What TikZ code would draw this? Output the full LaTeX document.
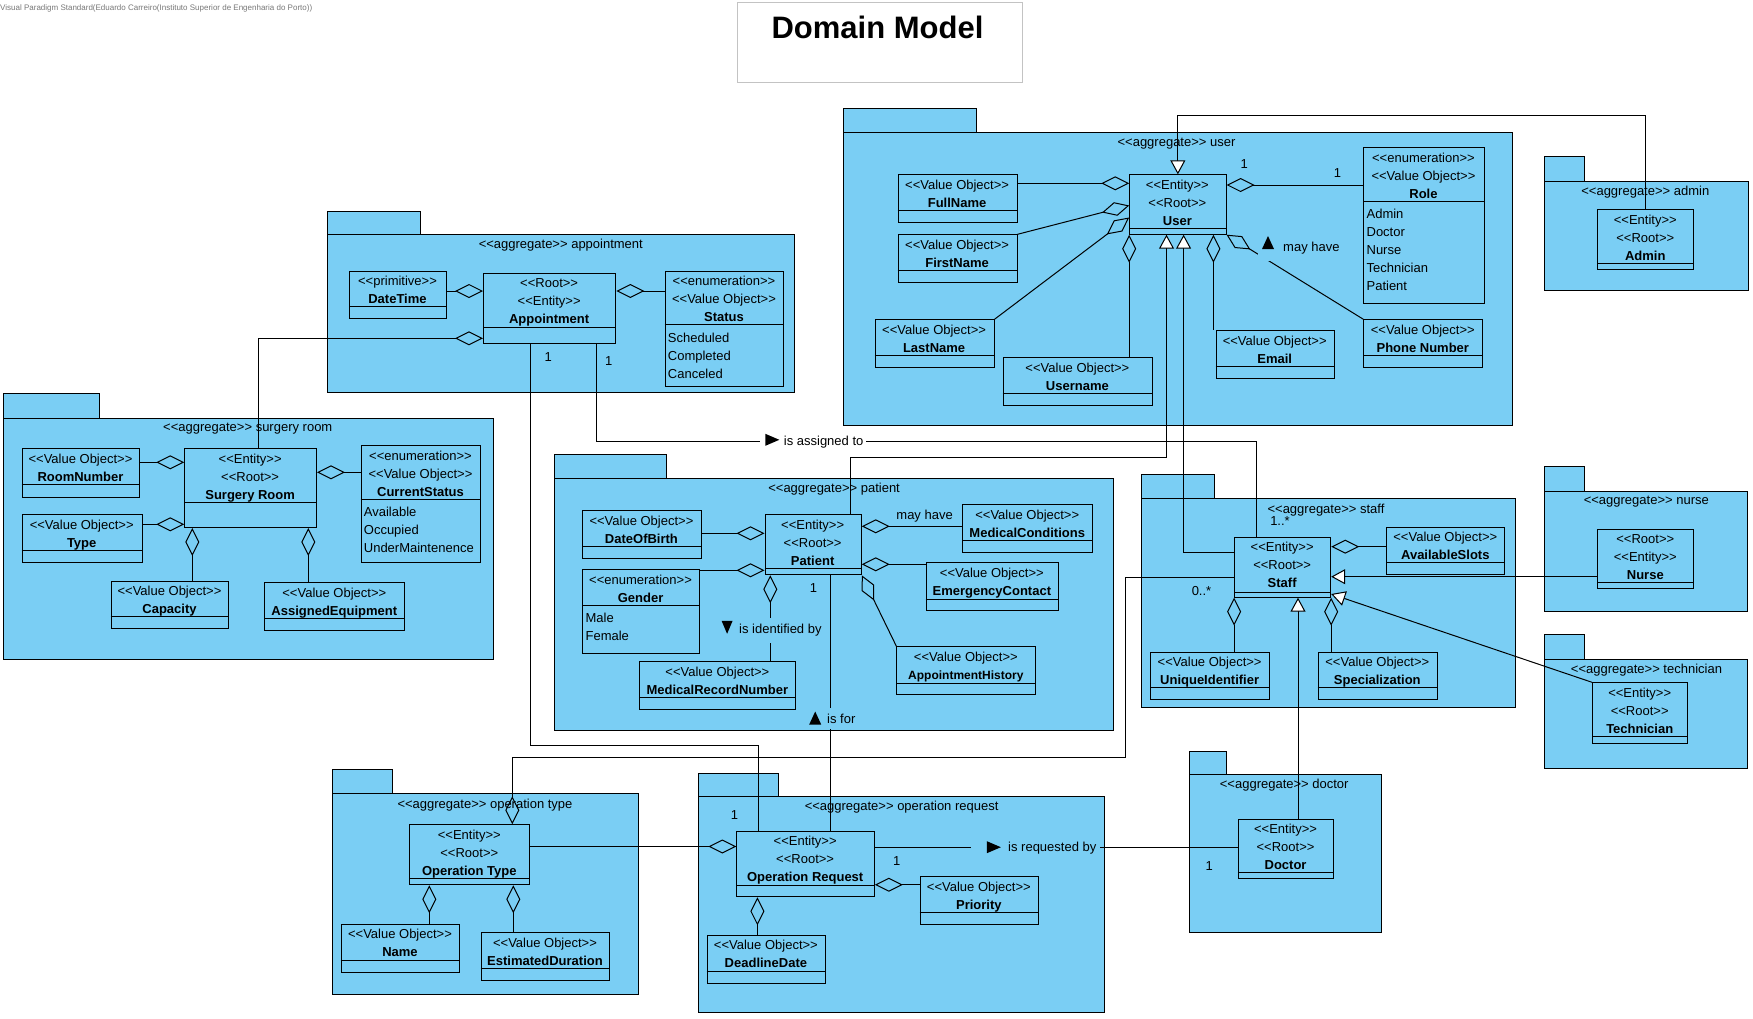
\documentclass[tikz,border=0pt]{standalone}
\usepackage{fontspec}
\setmainfont{Liberation Sans}
\usetikzlibrary{arrows.meta}
\definecolor{pkgblue}{RGB}{122,206,244}
\definecolor{wmgray}{RGB}{120,120,120}
\definecolor{titlegray}{RGB}{195,195,195}
\newcommand\stereo[1]{<\kern0pt<#1>\kern0pt>}
\tikzset{
  pkgshape/.style={draw=black, fill=pkgblue, line width=0.9pt, rectangle, inner sep=0pt, anchor=north west},
  cls/.style={draw=black, fill=pkgblue, line width=1pt, rectangle, inner sep=0pt, anchor=north west},
  sepline/.style={line width=1pt},
  head/.style={font=\fontsize{13}{18}\selectfont, align=center, inner sep=0pt, anchor=north},
  attr/.style={font=\fontsize{13}{18}\selectfont, align=left, inner sep=0pt, anchor=north west},
  ptitle/.style={font=\fontsize{13}{16}\selectfont, inner sep=0pt},
  lbl/.style={font=\fontsize{13}{16}\selectfont, inner xsep=3pt, inner ysep=2pt},
  mult/.style={font=\fontsize{13}{16}\selectfont, inner sep=0pt},
  con/.style={line width=1pt, draw=black},
  agg/.style={con, arrows={Diamond[open,length=28pt,width=14pt]-}},
  gen/.style={con, arrows={-Triangle[fill=white,length=14pt,width=15pt]}},
}
\newcommand\umlpkg[7]{%
  \node[pkgshape, minimum width={(#4-#2)*1pt}, minimum height={(#5-#3)*1pt}] (#1-tab) at (#2,#3) {};
  \node[pkgshape, minimum width={(#6-#2)*1pt}, minimum height={(#7-#5)*1pt}] (#1) at (#2,#5) {};}
\newcommand\umlbox[7]{%
  \node[cls, minimum width={(#4-#2)*1pt}, minimum height={(#5-#3)*1pt}] (#1) at (#2,#3) {};
  \draw[sepline] (#2,#6) -- (#4,#6);
  \node[head] (#1-h) at ({(#2+#4)/2},#3+5.2) {#7};}
\newcommand\umlenum[8]{%
  \umlbox{#1}{#2}{#3}{#4}{#5}{#6}{#7}%
  \node[attr] (#1-a) at (#2+3,#6+8) {#8};}
\newcommand\trir[2]{\fill (#1,#2-6) -- (#1+14,#2) -- (#1,#2+6) -- cycle;}
\newcommand\triu[2]{\fill (#1,#2+6.5) -- (#1+6,#2-6.5) -- (#1+12,#2+6.5) -- cycle;}
\newcommand\trid[2]{\fill (#1,#2-6.5) -- (#1+11,#2-6.5) -- (#1+5.5,#2+6.5) -- cycle;}
\begin{document}
\begin{tikzpicture}[x=1pt,y=-1pt]
\fill[white] (0,0) rectangle (1753,1018);
\useasboundingbox (0,0) rectangle (1753,1018);

\node[font=\fontsize{8}{9}\selectfont, text=wmgray, anchor=west, inner sep=0pt] (watermark) at (0,8) {Visual Paradigm Standard(Eduardo Carreiro(Instituto Superior de Engenharia do Porto))};
\node[draw=titlegray, fill=white, line width=0.8pt, anchor=north west, inner sep=0pt, minimum width=285pt, minimum height=79.4pt] (titlebox) at (736.7,2.3) {};
\node[font=\fontsize{31}{36}\selectfont\bfseries, inner sep=0pt] (title) at (877.5,27.5) {Domain Model};

% ---------- packages
\umlpkg{pappt}{326.7}{210.7}{420}{234}{794}{391.7}
\node[ptitle] (pappt-t) at (560.8,245.5) {\stereo{aggregate} appointment};
\umlpkg{psurg}{2.7}{393.3}{99.3}{418.3}{493.3}{659.3}
\node[ptitle] (psurg-t) at (247.8,429) {\stereo{aggregate} surgery room};
\umlpkg{puser}{843}{108.3}{975.7}{132.3}{1512.2}{425}
\node[ptitle] (puser-t) at (1176.5,144) {\stereo{aggregate} user};
\umlpkg{padmin}{1544.3}{156}{1584.3}{180.7}{1747.7}{290}
\node[ptitle] (padmin-t) at (1645.3,192) {\stereo{aggregate} admin};
\umlpkg{ppat}{554.4}{454.3}{666.3}{478.3}{1113.4}{730}
\node[ptitle] (ppat-t) at (834.1,489) {\stereo{aggregate} patient};
\umlpkg{pstaff}{1140.7}{474.3}{1214.2}{498.3}{1515.4}{707.3}
\node[ptitle] (pstaff-t) at (1326,510.3) {\stereo{aggregate} staff};
\umlpkg{pnurse}{1544.4}{466}{1584.1}{490.7}{1747}{611.3}
\node[ptitle] (pnurse-t) at (1646.3,501.3) {\stereo{aggregate} nurse};
\umlpkg{ptech}{1544.4}{634}{1584.1}{658.7}{1747}{768.3}
\node[ptitle] (ptech-t) at (1646.5,670.3) {\stereo{aggregate} technician};
\umlpkg{poptype}{331.7}{769.3}{392.3}{793.3}{638.3}{994.3}
\node[ptitle] (poptype-t) at (485,805) {\stereo{aggregate} operation type};
\umlpkg{popreq}{698}{772.7}{778.4}{796}{1104.3}{1012.3}
\node[ptitle] (popreq-t) at (901.6,807.3) {\stereo{aggregate} operation request};
\umlpkg{pdoc}{1188.5}{750.7}{1226.4}{774}{1380.6}{932.3}
\node[ptitle] (pdoc-t) at (1284.2,785.3) {\stereo{aggregate} doctor};

% ---------- classes: appointment
\umlbox{datetime}{349.3}{270.7}{445.7}{318.3}{306.7}{\stereo{primitive}\\\textbf{DateTime}}
\umlbox{appt}{483}{273.3}{615.3}{343.3}{327.3}{\stereo{Root}\\\stereo{Entity}\\\textbf{Appointment}}
\umlenum{status}{664.7}{270.7}{783.3}{386}{324.7}{\stereo{enumeration}\\\stereo{Value Object}\\\textbf{Status}}{Scheduled\\Completed\\Canceled}
% surgery room
\umlbox{roomnumber}{21.7}{448.3}{139.3}{496.7}{484.3}{\stereo{Value Object}\\\textbf{RoomNumber}}
\umlbox{rtype}{21.7}{514.3}{141.7}{562.3}{550.7}{\stereo{Value Object}\\\textbf{Type}}
\umlbox{sroom}{184.3}{448.3}{316}{527}{502.3}{\stereo{Entity}\\\stereo{Root}\\\textbf{Surgery Room}}
\umlenum{curstatus}{360.7}{445.3}{480.3}{562.3}{499}{\stereo{enumeration}\\\stereo{Value Object}\\\textbf{CurrentStatus}}{Available\\Occupied\\UnderMaintenence}
\umlbox{capacity}{110.7}{580.7}{228.3}{628.3}{616.7}{\stereo{Value Object}\\\textbf{Capacity}}
\umlbox{equip}{264.3}{582.3}{404.3}{630.3}{618.7}{\stereo{Value Object}\\\textbf{AssignedEquipment}}
% user
\umlbox{fullname}{897.7}{174.3}{1016.5}{222.3}{210.3}{\stereo{Value Object}\\\textbf{FullName}}
\umlbox{firstname}{897.7}{234.3}{1016.5}{282.3}{270.3}{\stereo{Value Object}\\\textbf{FirstName}}
\umlbox{user}{1129.2}{174.3}{1225.5}{233.7}{228.3}{\stereo{Entity}\\\stereo{Root}\\\textbf{User}}
\umlenum{role}{1363.4}{147.3}{1483.5}{303.3}{201.3}{\stereo{enumeration}\\\stereo{Value Object}\\\textbf{Role}}{Admin\\Doctor\\Nurse\\Technician\\Patient}
\umlbox{lastname}{874.7}{319.3}{993.5}{367.3}{355.7}{\stereo{Value Object}\\\textbf{LastName}}
\umlbox{username}{1002.6}{357.3}{1152.2}{405.3}{393.7}{\stereo{Value Object}\\\textbf{Username}}
\umlbox{email}{1215.5}{330.3}{1333.9}{378.3}{366.3}{\stereo{Value Object}\\\textbf{Email}}
\umlbox{phone}{1363.4}{319.3}{1482.2}{367.3}{355.7}{\stereo{Value Object}\\\textbf{Phone Number}}
\umlbox{admin}{1597.3}{209.3}{1693.3}{269.3}{263.3}{\stereo{Entity}\\\stereo{Root}\\\textbf{Admin}}
% patient
\umlbox{dob}{582.4}{510.3}{700.5}{558.3}{546.7}{\stereo{Value Object}\\\textbf{DateOfBirth}}
\umlenum{gender}{582.4}{569.3}{698.7}{653.3}{605}{\stereo{enumeration}\\\textbf{Gender}}{Male\\Female}
\umlbox{patient}{764.5}{514.3}{860.8}{574.3}{568.3}{\stereo{Entity}\\\stereo{Root}\\\textbf{Patient}}
\umlbox{medcond}{962.2}{504.3}{1092.3}{552.3}{540}{\stereo{Value Object}\\\textbf{MedicalConditions}}
\umlbox{emerg}{925.5}{562.3}{1058.2}{610.3}{599}{\stereo{Value Object}\\\textbf{EmergencyContact}}
\umlbox{appthist}{896.4}{646.3}{1035.3}{694.3}{683}{\stereo{Value Object}\\\textbf{\fontsize{12}{18}\selectfont AppointmentHistory}}
\umlbox{mrn}{639.4}{661.3}{795.4}{709.3}{697}{\stereo{Value Object}\\\textbf{MedicalRecordNumber}}
% staff, nurse, technician
\umlbox{staff}{1234.1}{536.7}{1330.2}{596.7}{592}{\stereo{Entity}\\\stereo{Root}\\\textbf{Staff}}
\umlbox{slots}{1386.3}{526.7}{1504.3}{574}{562.7}{\stereo{Value Object}\\\textbf{AvailableSlots}}
\umlbox{uid}{1150.3}{651.7}{1269}{699.3}{687.7}{\stereo{Value Object}\\\textbf{UniqueIdentifier}}
\umlbox{spec}{1317.5}{651.7}{1437.1}{699.3}{687.7}{\stereo{Value Object}\\\textbf{Specialization}}
\umlbox{nurse}{1597.2}{528.7}{1693.4}{588.3}{582.3}{\stereo{Root}\\\stereo{Entity}\\\textbf{Nurse}}
\umlbox{tech}{1592}{682.3}{1687.4}{742.7}{736.7}{\stereo{Entity}\\\stereo{Root}\\\textbf{Technician}}
% operation type, operation request, doctor
\umlbox{optype}{409.3}{824.3}{529.3}{884.3}{878.3}{\stereo{Entity}\\\stereo{Root}\\\textbf{Operation Type}}
\umlbox{vname}{340.7}{924}{459.3}{972.3}{960.3}{\stereo{Value Object}\\\textbf{Name}}
\umlbox{estdur}{480.7}{932.3}{609.3}{980.3}{968.7}{\stereo{Value Object}\\\textbf{EstimatedDuration}}
\umlbox{opreq}{736.4}{830.7}{873.9}{896.3}{885.7}{\stereo{Entity}\\\stereo{Root}\\\textbf{Operation Request}}
\umlbox{priority}{919.5}{876.3}{1038.2}{924.3}{912.7}{\stereo{Value Object}\\\textbf{Priority}}
\umlbox{deadline}{706.5}{934.7}{825.3}{983.3}{971.7}{\stereo{Value Object}\\\textbf{DeadlineDate}}
\umlbox{doctor}{1237.8}{818.7}{1333.3}{878.3}{872}{\stereo{Entity}\\\stereo{Root}\\\textbf{Doctor}}

% ---------- connectors
% appointment
\draw[agg] (appt.west |- 0,291) -- (datetime.east |- 0,291);
\draw[agg] (appt.east |- 0,291) -- (status.west |- 0,291);
\draw[agg] (appt.west |- 0,338.3) -- (258.3,338.3) -- (sroom.north -| 258.3,0);
\draw[con] (appt.south -| 530,0) -- (530,745) -- (758,745) -- (opreq.north -| 758,0);
\draw[con] (appt.south -| 596,0) -- (596,441.7) -- (1256.3,441.7) -- (staff.north -| 1256.3,0);
% surgery room
\draw[agg] (sroom.west |- 0,462.3) -- (roomnumber.east |- 0,462.3);
\draw[agg] (sroom.west |- 0,524.3) -- (rtype.east |- 0,524.3);
\draw[agg] (sroom.east |- 0,472.3) -- (curstatus.west |- 0,472.3);
\draw[agg] (sroom.south -| 192.3,0) -- (capacity.north -| 192.3,0);
\draw[agg] (sroom.south -| 308.3,0) -- (equip.north -| 308.3,0);
% user
\draw[agg] (user.west |- 0,183.3) -- (fullname.east |- 0,183.3);
\draw[agg] (user.east |- 0,185) -- (role.west |- 0,185);
\draw[agg] (user.west |- 0,205.5) -- (firstname.north east);
\draw[agg] (user.west |- 0,217.5) -- (lastname.north east);
\draw[agg] (user.south west) -- (username.north -| user.south west);
\draw[agg] (user.south -| 1213.4,0) -- (email.north -| 1213.4,0);
\draw[agg] (user.south east) -- (phone.north west);
\draw[gen] (admin.north) -- (admin.north |- 0,115) -- (user.north |- 0,115) -- (user.north);
\draw[gen] (patient.north -| 850,0) -- (850,457.7) -- (1166.5,457.7) -- (user.south -| 1166.5,0);
\draw[gen] (staff.west |- 0,552.3) -- (1183.6,552.3) -- (user.south -| 1183.6,0);
% patient
\draw[agg] (patient.west |- 0,533.3) -- (dob.east |- 0,533.3);
\draw[agg] (patient.west |- 0,570.3) -- (gender.east |- 0,570.3);
\draw[agg] (patient.east |- 0,526.3) -- (medcond.west |- 0,526.3);
\draw[agg] (patient.east |- 0,564.3) -- (emerg.west |- 0,564.3);
\draw[agg] (patient.south east) -- (appthist.north west);
\draw[agg] (patient.south -| 770.3,0) -- (mrn.north -| 770.3,0);
\draw[con] (patient.south -| 830.3,0) -- (opreq.north -| 830.3,0);
% staff
\draw[agg] (staff.east |- 0,546.7) -- (slots.west |- 0,546.7);
\draw[agg] (staff.south west) -- (uid.north -| staff.south west);
\draw[agg] (staff.south east) -- (spec.north -| staff.south east);
\draw[gen] (nurse.west |- 0,576.7) -- (staff.east |- 0,576.7);
\draw[gen] (tech.north west) -- (staff.east |- 0,594);
\draw[gen] (doctor.north -| 1298,0) -- (staff.south -| 1298,0);
\draw[agg] (optype.north -| 512.3,0) -- (512.3,757.3) -- (1125.5,757.3) -- (1125.5,577.3) -- (staff.west |- 0,577.3);
% operation type / request
\draw[agg] (optype.south -| 429.3,0) -- (vname.north -| 429.3,0);
\draw[agg] (optype.south -| 513.3,0) -- (estdur.north -| 513.3,0);
\draw[agg] (opreq.west |- 0,846.5) -- (optype.east |- 0,846.5);
\draw[agg] (opreq.east |- 0,884.7) -- (priority.west |- 0,884.7);
\draw[agg] (opreq.south -| 757.4,0) -- (deadline.north -| 757.4,0);
\draw[con] (opreq.east |- 0,847.5) -- (doctor.west |- 0,847.5);

% ---------- association labels
\node[lbl, fill=white, anchor=west] (lassigned) at (760,441.7) {\hspace*{20.7pt}is assigned to};
\trir{765.3}{439.8}
\node[lbl, fill=pkgblue, anchor=west, minimum height=26pt] (lmayhave) at (1258,248) {\hspace*{22pt}may have};
\triu{1262}{242.5}
\node[lbl] (lmayhave2) at (924.6,515.7) {may have};
\node[lbl, fill=pkgblue, anchor=west, minimum height=25pt] (lidentified) at (718,630) {\hspace*{18pt}is identified by};
\trid{721.6}{627.3}
\node[lbl, fill=pkgblue, anchor=west, minimum height=21pt] (lisfor) at (806,718.5) {\hspace*{18pt}is for};
\triu{809.2}{718}
\node[lbl, fill=pkgblue, anchor=west, inner xsep=4pt] (lrequested) at (971,848) {\hspace*{33pt}is requested by};
\trir{986.9}{847.2}

% ---------- multiplicities
\node[mult] (m1) at (548.3,357.3) {1};
\node[mult] (m2) at (608.7,360.7) {1};
\node[mult] (m3) at (734.6,815) {1};
\node[mult] (m4) at (1280,521) {1..*};
\node[mult] (m5) at (1201.5,590.7) {0..*};
\node[mult] (m6) at (1244.2,164.3) {1};
\node[mult] (m7) at (1337.4,173.3) {1};
\node[mult] (m8) at (813.5,588.3) {1};
\node[mult] (m9) at (896.7,860.7) {1};
\node[mult] (m10) at (1209.2,866) {1};
\end{tikzpicture}
\end{document}
